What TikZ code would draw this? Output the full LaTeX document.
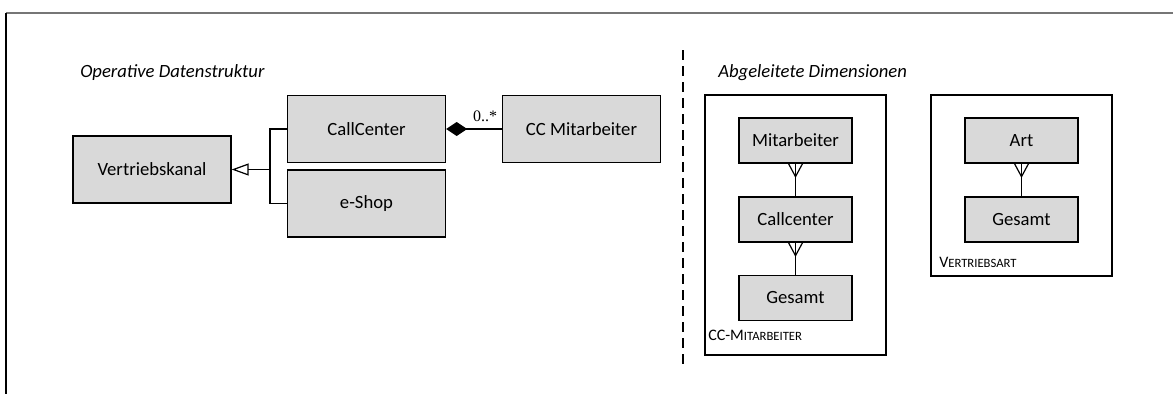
\documentclass[tikz,border=0pt]{standalone}
\usepackage{fontspec}
\setmainfont{Carlito}
\newfontfamily\multfont{Liberation Serif}
\usepackage{xcolor}
\usetikzlibrary{arrows.meta, positioning}

\definecolor{boxgray}{RGB}{217,217,217}
\definecolor{framegray}{RGB}{118,118,118}

\begin{document}
\begin{tikzpicture}[
    x=0.75pt, y=-0.75pt,
    entity/.style={draw, line width=1pt, fill=boxgray, minimum width=118.5pt,
                   minimum height=50.25pt, align=center, font=\fontsize{14}{16}\selectfont},
    level/.style={entity, minimum width=84.75pt, minimum height=33.75pt},
    dimframe/.style={draw, line width=1pt, inner sep=0pt},
    heading/.style={anchor=west, inner sep=0pt, font=\fontsize{14}{16}\selectfont\itshape},
    dimlabel/.style={anchor=west, inner sep=0pt, font=\fontsize{12}{14}\selectfont},
    link/.style={line width=0.9pt},
    mult/.style={font=\multfont\fontsize{12}{14}\selectfont, inner sep=1pt}
]
\useasboundingbox (0,0) rectangle (1173,394);

% page frame and divider
\draw[framegray, line width=1pt] (1173,13) -- (6,13);
\draw[line width=1pt] (6,13) -- (6,394);
\draw[line width=1pt, dash pattern=on 7.5pt off 4.5pt] (683,50) -- (683,366);

% Operative data structure
\node[heading] (ophead) at (80,73) {Operative Datenstruktur};

\node[entity] (vkanal) at (152,169.5)   {Vertriebskanal};
\node[entity] (callc)  at (366.5,129)   {CallCenter};
\node[entity] (eshop)  at (366.5,203.5) {e-Shop};
\node[entity] (ccmit)  at (581.5,129)   {CC Mitarbeiter};

% generalisation
\coordinate (branch) at (270,169.5);
\draw[link] (callc.west) -| (branch) |- (eshop.west);
\draw[link, -{Triangle[open, length=12.75pt, width=9pt, line width=0.9pt]}]
    (branch) -- (vkanal.east);

% composition
\draw[link, {Diamond[length=15.75pt, width=10.5pt]}-] (callc.east) --
    node[mult, pos=0.7, above=4pt]{0..*} (ccmit.west);

% Derived dimensions
\node[heading] (dimhead) at (718,73) {Abgeleitete Dimensionen};

\node[dimframe, minimum width=135.75pt, minimum height=195pt] (ccdim) at (795.5,225) {};
\node[level] (mitarb)  at (795.5,140.5) {Mitarbeiter};
\node[level] (callcl)  at (795.5,219.5) {Callcenter};
\node[level] (gesamtA) at (795.5,298)   {Gesamt};
\node[dimlabel] (cclabel) at (708,335)
    {CC-M{\fontsize{9.5}{11}\selectfont ITARBEITER}};

\node[dimframe, minimum width=135.75pt, minimum height=135.75pt] (vadim) at (1021.5,185.5) {};
\node[level] (art)     at (1021.5,140.5) {Art};
\node[level] (gesamtB) at (1021.5,219.5) {Gesamt};
\node[dimlabel] (valabel) at (939,262)
    {V{\fontsize{9.5}{11}\selectfont ERTRIEBSART}};

% roll-up links (crow's foot at the finer level)
\draw[link] (callcl.north) -- (mitarb.south);
\draw[link] ([xshift=-5.25pt]mitarb.south) -- ([yshift=-9.75pt]mitarb.south)
    -- ([xshift=5.25pt]mitarb.south);
\draw[link] (gesamtA.north) -- (callcl.south);
\draw[link] ([xshift=-5.25pt]callcl.south) -- ([yshift=-9.75pt]callcl.south)
    -- ([xshift=5.25pt]callcl.south);
\draw[link] (gesamtB.north) -- (art.south);
\draw[link] ([xshift=-5.25pt]art.south) -- ([yshift=-9.75pt]art.south)
    -- ([xshift=5.25pt]art.south);

\end{tikzpicture}
\end{document}
